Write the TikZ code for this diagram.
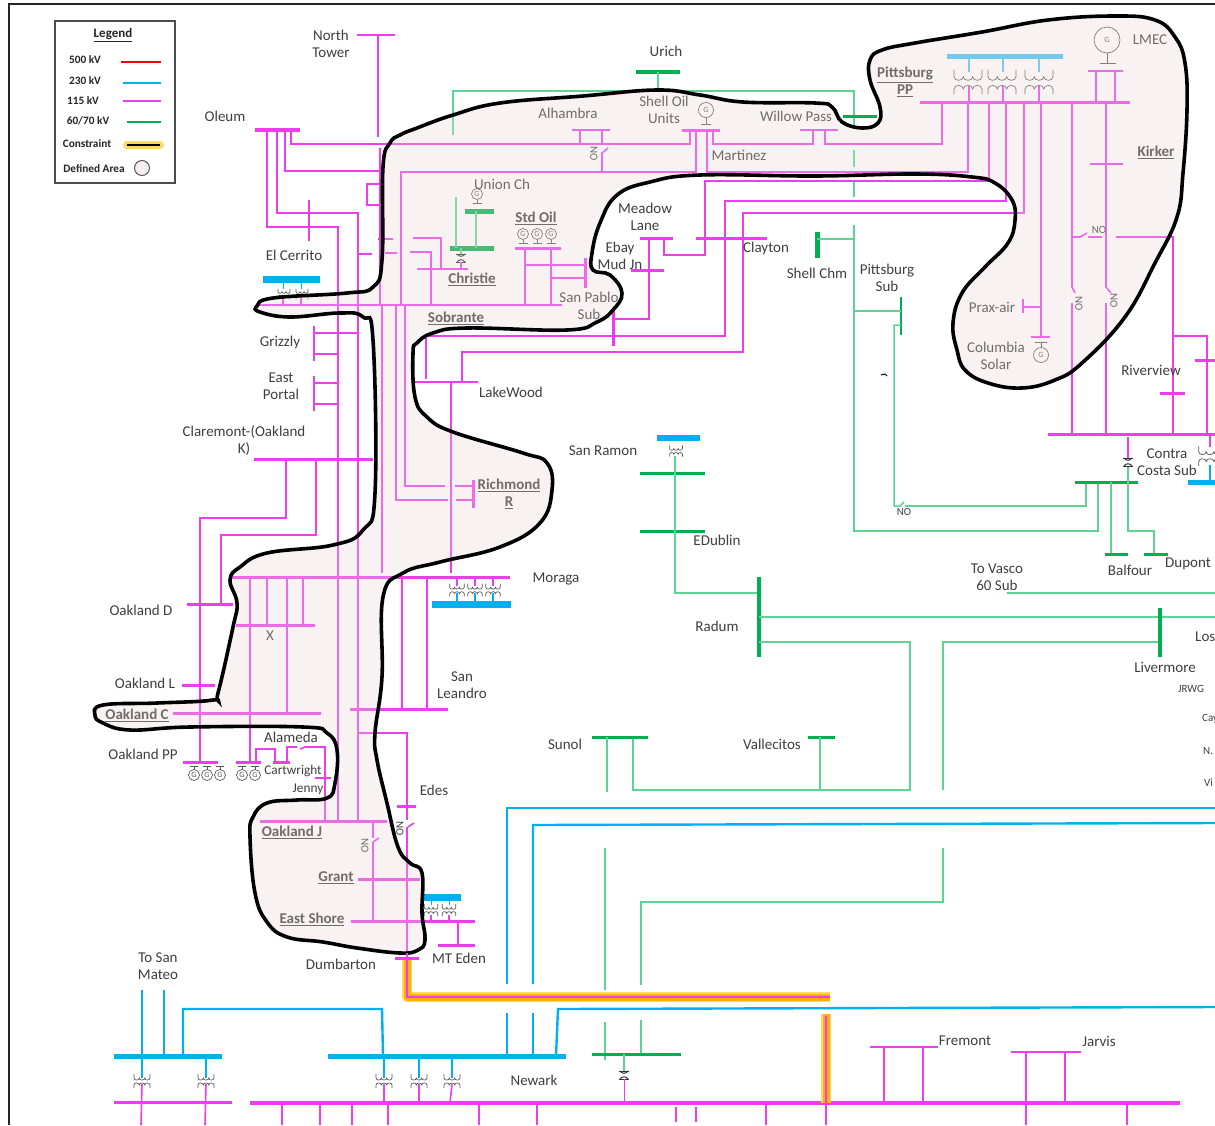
\documentclass[tikz,border=0pt]{standalone}
\usepackage{fontspec}
\setmainfont{Carlito}
\usetikzlibrary{arrows.meta}
\definecolor{kvfive}{HTML}{FF0000}
\definecolor{kvtwo}{HTML}{00B0F0}
\definecolor{kvone}{HTML}{EE3DEE}
\definecolor{kvsix}{HTML}{00B050}
\definecolor{kvsixlt}{HTML}{5CD494}
\definecolor{areatint}{HTML}{E8D7D7}
\definecolor{symgray}{HTML}{595959}
\definecolor{txtgray}{HTML}{3F3F3F}
\definecolor{glowin}{HTML}{FFB000}
\definecolor{glowout}{HTML}{FFD966}
\tikzset{
  ln115/.style={kvone,line width=1.6pt},
  bus115/.style={kvone,line width=3pt},
  ln230/.style={kvtwo,line width=2.4pt},
  bus230/.style={kvtwo,line width=5pt},
  bar230/.style={kvtwo,line width=7pt},
  ln60/.style={kvsixlt,line width=1.5pt},
  bus60/.style={kvsix,line width=3pt},
  glowa/.style={glowout,line width=10.5pt,line join=round},
  glowb/.style={glowin,line width=7pt,line join=round},
  areaedge/.style={draw=black,line width=3.6pt,fill=areatint,fill opacity=0.3},
  lbl/.style={font=\fontsize{15}{17}\selectfont,text=txtgray,align=center,inner sep=0pt},
  boldlbl/.style={font=\fontsize{15}{17}\selectfont,text=txtgray,align=center,inner sep=0pt},
  smalllbl/.style={font=\fontsize{13.3}{14}\selectfont,text=txtgray,align=center,inner sep=0pt},
  tinylbl/.style={font=\fontsize{11}{12}\selectfont,text=txtgray,align=center,inner sep=0pt},
  leglbl/.style={font=\fontsize{11.3}{12}\selectfont\bfseries,text=black!85,inner sep=0pt},
  gensym/.style={draw=symgray,circle,line width=0.7pt,minimum size=11pt,inner sep=0pt,text=symgray,font=\fontsize{8}{8}\selectfont}
}
\newcommand{\bld}[1]{\underline{\textbf{#1}}}
\newcommand{\xfmr}[3]{\begin{scope}[shift={(#1,#2)},scale=#3,symgray,line width=0.7pt]
\draw (-8,-7) -- (-8,-3) .. controls (-8,-0.3) and (-2.7,-0.3) .. (-2.7,-3) .. controls (-2.7,-0.3) and (2.7,-0.3) .. (2.7,-3) .. controls (2.7,-0.3) and (8,-0.3) .. (8,-3) -- (8,-7);
\draw (-8,7) -- (-8,4) .. controls (-8,1.3) and (-2.7,1.3) .. (-2.7,4) .. controls (-2.7,1.3) and (2.7,1.3) .. (2.7,4) .. controls (2.7,1.3) and (8,1.3) .. (8,4) -- (8,7);
\end{scope}}
\newcommand{\tie}[2]{\begin{scope}[shift={(#1,#2)},black!80,line width=1pt]
\draw (-5,-4) -- (5,-4);
\draw (-5,4) -- (5,4);
\draw (-4,-4) .. controls (-2,-1) and (2,-1) .. (4,-4);
\draw (-4,4) .. controls (-2,1) and (2,1) .. (4,4);
\end{scope}}
\newcommand{\gen}[3]{\node[gensym] (#1) at (#2,#3) {G};
\draw[symgray,line width=1pt] (#2-4,#3-9) -- (#2+4,#3-9);
\draw[symgray,line width=0.7pt] (#2,#3-9) -- (#2,#3-5.5);}
\newcommand{\genup}[3]{\node[gensym] (#1) at (#2,#3) {G};
\draw[symgray,line width=1pt] (#2-4.5,#3+9) -- (#2+4.5,#3+9);
\draw[symgray,line width=0.7pt] (#2,#3+9) -- (#2,#3+5.5);}
\begin{document}
\begin{tikzpicture}[x=1pt,y=-1pt]
\useasboundingbox (0,0) rectangle (1215,1125);
\fill[white] (0,0) rectangle (1215,1125);
\draw[black!85,line width=1.6pt] (9,1125) -- (9,4) -- (1215,4);

\draw[ln60] (453,135) -- (453,91) -- (854,91) -- (854,125);
\draw[ln60] (854,150) -- (854,167);
\draw[ln60] (854,180) -- (854,197);
\draw[ln60] (854,225) -- (854,531) -- (1098,531) -- (1098,482);
\draw[bus60,line width=4.5pt] (636,72) -- (680,72);
\draw[ln60] (658,72) -- (658,91);
\draw[bus60] (843,116) -- (877,116);
\draw[kvsix,line width=5pt] (817,232) -- (817,258);
\draw[ln60] (817,239) -- (854,239);
\draw[bus60,line width=2.4pt] (901,297) -- (901,335);
\draw[ln60] (854,311) -- (901,311);
\draw[ln60] (901,325) -- (894,325) -- (894,506) -- (900,506) -- (904,502);
\draw[ln60] (905,506) -- (1086,506) -- (1086,482);
\draw[black,line width=1pt] (881,375) -- (885,374) -- (887,376);
\draw[bus60] (1075,482) -- (1138,482);
\draw[ln60] (1111,482) -- (1111,554);
\draw[ln60] (1128,466) -- (1128,531) -- (1154,531) -- (1154,554);
\draw[bus60] (1105,554) -- (1128,554);
\draw[bus60] (1144,554) -- (1168,554);
\draw[ln115] (1128,437) -- (1128,458);
\tie{1128}{462}

\draw[bus230,line width=6pt] (657,438) -- (700,438);
\xfmr{676}{451}{0.8}
\draw[bus60] (640,473) -- (705,473);
\draw[bus60] (640,531) -- (705,531);
\draw[ln60] (675,456) -- (675,593) -- (759,593);
\draw[kvsix,line width=3.5pt] (759,577) -- (759,657);
\draw[ln60] (759,617) -- (1215,617);
\draw[ln60] (759,642) -- (910,642) -- (910,790) -- (633,790) -- (633,737);
\draw[bus60] (592,737) -- (648,737);
\draw[ln60] (607,737) -- (607,792);
\draw[bus60] (808,737) -- (835,737);
\draw[ln60] (820,737) -- (820,790);
\draw[ln60] (943,790) -- (943,642) -- (1160,642);
\draw[kvsix,line width=3.5pt] (1160,608) -- (1160,657);
\draw[ln60] (1007,593) -- (1215,593);
\draw[ln60] (605,848) -- (605,990);
\draw[ln60] (641,985) -- (641,902) -- (943,902) -- (943,848);
\draw[ln60] (605,1022) -- (605,1060);
\draw[ln60] (641,1020) -- (641,1054);
\draw[bus60] (592,1054) -- (681,1054);
\draw[ln60] (624,1054) -- (624,1071);
\tie{624}{1075}
\draw[ln115,line width=1pt] (624,1079) -- (624,1103);

\draw[ln230] (507,984) -- (507,808) -- (1215,808);
\draw[ln230] (533,984) -- (533,825) -- (1215,823);
\draw[ln230] (507,1013) -- (507,1057);
\draw[ln230] (533,1013) -- (533,1057);
\draw[ln230] (556,1056) -- (558,1009) -- (1215,1007);
\draw[bus230] (328,1056) -- (566,1056);
\draw[ln230] (183,1056) -- (183,1009) -- (382,1009) -- (383,1056);
\draw[bus230] (114,1056) -- (222,1056);
\draw[ln230] (142,990) -- (142,1056);
\draw[ln230] (164,990) -- (164,1056);

\draw[kvtwo,line width=1.2pt] (142,1056) -- (142,1078);
\draw[kvtwo,line width=1.2pt] (206,1056) -- (206,1078);
\draw[kvtwo,line width=1.2pt] (384,1056) -- (384,1078);
\draw[kvtwo,line width=1.2pt] (419,1056) -- (419,1078);
\draw[kvtwo,line width=1.2pt] (452,1056) -- (452,1078);
\draw[ln115] (142,1084) -- (141,1125);
\draw[ln115] (206,1084) -- (205,1125);
\draw[ln115] (384,1084) -- (384,1103);
\draw[ln115] (419,1084) -- (419,1103);
\draw[ln115] (452,1084) -- (450,1103);
\xfmr{142}{1081}{1}
\xfmr{206}{1081}{1}
\xfmr{384}{1081}{1}
\xfmr{419}{1081}{1}
\xfmr{452}{1081}{1}
\draw[bus115] (114,1102) -- (232,1102);
\draw[kvone,line width=4pt] (250,1103) -- (1180,1103);
\draw[ln115] (282,1103) -- (282,1125);
\draw[ln115] (320,1103) -- (320,1125);
\draw[ln115] (352,1103) -- (352,1125);
\draw[ln115] (388,1103) -- (388,1125);
\draw[ln115] (479,1103) -- (479,1125);
\draw[ln115] (537,1103) -- (537,1125);
\draw[ln115] (676,1107) -- (676,1122);
\draw[ln115] (696,1107) -- (696,1122);
\draw[ln115] (766,1103) -- (766,1125);
\draw[ln115] (884,1047) -- (884,1103);
\draw[ln115] (923,1047) -- (923,1103);
\draw[ln115] (870,1047) -- (938,1047);
\draw[ln115] (1011,1052) -- (1081,1052);
\draw[ln115] (1026,1052) -- (1026,1125);
\draw[ln115] (1065,1052) -- (1065,1103);
\draw[ln115] (1127,1103) -- (1127,1125);
\draw[glowa] (826,1014) -- (826,1103);
\draw[glowb] (826,1014) -- (826,1103);
\draw[ln115] (826,1016) -- (826,1125);

\draw[ln115] (357,35) -- (395,35);
\draw[ln115] (378,35) -- (378,137);
\draw[bus115,line width=3.5pt] (255,130) -- (300,130);
\draw[ln115] (267,130) -- (267,227) -- (338,227) -- (338,821);
\draw[ln115] (277,130) -- (277,213) -- (358,213) -- (358,821);
\draw[ln115] (285,130) -- (285,171) -- (380,171);
\draw[ln115] (291,130) -- (291,144) -- (690,144) -- (690,130);
\draw[ln115] (380,148) -- (380,305);
\draw[ln115] (380,184) -- (367,184) -- (367,205) -- (380,205);
\draw[ln115] (309,200) -- (309,241);
\draw[ln115] (358,254) -- (372,254);
\draw[ln115] (378,239) -- (393,239);
\draw[ln115] (385,253) -- (397,253);
\draw[bus115] (682,130) -- (720,130);
\draw[ln115] (696,130) -- (696,172) -- (401,172) -- (401,305);
\draw[ln115] (707,130) -- (707,172) -- (968,172) -- (968,102);
\draw[ln115] (713,130) -- (713,144) -- (813,144) -- (813,130);
\draw[ln115] (800,130) -- (838,130);
\draw[ln115] (825,130) -- (825,144) -- (942,144) -- (942,102);
\draw[ln115] (572,130) -- (610,130);
\draw[ln115] (580,130) -- (580,144);
\draw[ln115] (602,130) -- (602,144);
\draw[ln115] (602,172) -- (602,153) -- (608,148);
\node[tinylbl,rotate=-90] (noalhambra) at (594,154) {NO};
\node[gensym,minimum size=15pt] (genshell) at (706,110) {G};
\draw[symgray,line width=1pt] (701,124) -- (711,124);
\draw[symgray,line width=0.7pt] (706,124) -- (706,117.5);

\draw[bus115] (920,102) -- (1130,102);
\draw[ln115] (989,102) -- (989,181) -- (705,181) -- (705,255) -- (664,255) -- (664,238);
\draw[ln115] (1006,102) -- (1006,201) -- (725,201) -- (725,336) -- (426,336) -- (426,379);
\draw[ln115] (1024,102) -- (1024,213) -- (743,213) -- (743,352) -- (462,352) -- (462,382);
\draw[bus115] (696,238) -- (767,238);
\draw[bus115] (640,238) -- (673,238);
\draw[ln115] (649,238) -- (649,319) -- (613,319);
\draw[bus115] (631,270) -- (664,270);
\draw[bus115] (613,308) -- (613,346);
\draw[ln115] (411,382) -- (478,382);
\draw[ln115] (451,382) -- (451,573);
\draw[ln115] (1041,102) -- (1041,337);
\draw[ln115] (1031,337) -- (1050,337);
\draw[symgray,line width=1pt] (1035,342) -- (1047,342);
\draw[symgray,line width=0.7pt] (1041,342) -- (1041,348);
\node[gensym,minimum size=15pt] (gencolumbia) at (1041,355) {G};
\draw[ln115] (1023,299) -- (1023,313);
\draw[ln115] (1023,307) -- (1041,307);
\draw[ln115] (1072,102) -- (1072,287) -- (1075,293);
\draw[ln115] (1072,303) -- (1072,434);
\draw[ln115] (1106,102) -- (1106,287) -- (1111,293);
\draw[ln115] (1106,303) -- (1106,434);
\node[tinylbl,rotate=-90] (nokirkera) at (1079,304) {NO};
\node[tinylbl,rotate=-90] (nokirkerb) at (1114,301) {NO};
\draw[ln115] (1090,164) -- (1123,164);
\draw[ln115] (1072,237) -- (1080,237) -- (1087,233);
\draw[ln115] (1088,237) -- (1102,237);
\node[tinylbl] (nokirkerc) at (1099,230) {NO};
\draw[ln115] (1116,237) -- (1173,237) -- (1173,434);
\draw[bus115] (1160,393) -- (1185,393);
\draw[ln115] (1173,336) -- (1207,336) -- (1207,434);
\draw[bus115] (1195,360) -- (1215,360);
\draw[bus115] (1048,434) -- (1215,434);
\draw[ln115] (1210,434) -- (1210,447);
\xfmr{1210}{456}{1.4}
\draw[kvtwo,line width=1.2pt] (1210,465) -- (1210,480);
\draw[bus230] (1188,482) -- (1215,482);

\draw[kvtwo!75!white,line width=5pt] (947,56) -- (1063,56);
\draw[kvtwo!70!white,line width=1.2pt] (969,56) -- (969,72);
\draw[kvtwo!70!white,line width=1.2pt] (1003,56) -- (1003,72);
\draw[kvtwo!70!white,line width=1.2pt] (1039,56) -- (1039,72);
\draw[ln115] (969,86) -- (969,102);
\draw[ln115] (1003,86) -- (1003,102);
\draw[ln115] (1039,86) -- (1039,102);
\xfmr{968}{82}{1.75}
\xfmr{1002}{82}{1.75}
\xfmr{1039}{82}{1.75}
\draw[ln115] (1088,71) -- (1123,71);
\draw[ln115] (1096,71) -- (1096,102);
\draw[ln115] (1115,71) -- (1115,102);
\node[gensym,minimum size=26pt] (genlmec) at (1107,40) {G};
\draw[symgray,line width=1pt] (1100,63) -- (1116,63);
\draw[symgray,line width=0.8pt] (1107,63) -- (1107,53);

\draw[kvone,line width=2.2pt] (257,305) -- (562,305);
\draw[bar230] (263,279) -- (320,279);
\draw[kvtwo,line width=1pt] (283,283) -- (283,289);
\draw[kvtwo,line width=1pt] (301,283) -- (301,289);
\xfmr{284}{294}{0.75}
\xfmr{302}{294}{0.75}
\draw[ln115] (283,298) -- (283,305);
\draw[ln115] (301,298) -- (301,305);
\draw[ln115] (382,305) -- (382,573);
\draw[ln115] (396,305) -- (396,500) -- (448,500);
\draw[ln115] (405,305) -- (405,486) -- (445,486);
\draw[ln115] (455,486) -- (473,486);
\draw[ln115] (456,500) -- (473,500);
\draw[bus115] (473,480) -- (473,508);
\draw[ln115] (417,269) -- (468,269);
\draw[ln115] (441,269) -- (441,238) -- (413,238);
\draw[ln115] (431,305) -- (431,252) -- (410,252);
\draw[bus60,line width=5pt] (450,248) -- (494,248);
\draw[ln60] (456,248) -- (456,197);
\draw[bus60,line width=5pt] (465,211) -- (494,211);
\draw[ln60] (476,211) -- (476,248);
\draw[ln60] (461,248) -- (461,255);
\tie{461}{258}
\draw[ln115] (461,262) -- (461,269);
\genup{genunion}{477}{194}
\draw[bus115] (515,248) -- (561,248);
\draw[ln115] (525,248) -- (525,305);
\draw[ln115] (551,248) -- (551,305);
\draw[ln115] (525,265) -- (585,265);
\draw[ln115] (551,278) -- (585,278);
\draw[bus115] (585,258) -- (585,288);
\genup{genstda}{523}{234}
\genup{genstdb}{537}{234}
\genup{genstdc}{551}{234}

\draw[ln115] (314,326) -- (314,361);
\draw[ln115] (314,333) -- (358,333);
\draw[ln115] (314,354) -- (338,354);
\draw[ln115] (314,376) -- (314,411);
\draw[ln115] (314,383) -- (338,383);
\draw[ln115] (314,404) -- (338,404);
\draw[bus115] (254,459) -- (373,459);
\draw[ln115] (286,459) -- (286,518) -- (200,518) -- (200,762);
\draw[ln115] (316,459) -- (316,535) -- (221,535) -- (221,604);
\draw[bus115] (187,604) -- (233,604);
\draw[bus115] (232,577) -- (510,577);
\draw[ln115] (250,577) -- (250,762);
\draw[ln115] (267,577) -- (267,625);
\draw[ln115] (287,577) -- (287,713);
\draw[ln115] (303,577) -- (303,625);
\draw[bus115] (236,625) -- (315,625);
\draw[bus115] (173,713) -- (321,713);
\draw[bus115] (182,685) -- (215,685);
\draw[ln115] (402,577) -- (402,709);
\draw[ln115] (427,577) -- (427,709);
\draw[bus115] (350,709) -- (448,709);
\draw[kvtwo,line width=1.2pt] (457,593) -- (457,604);
\draw[kvtwo,line width=1.2pt] (475,593) -- (475,604);
\draw[kvtwo,line width=1.2pt] (493,593) -- (493,604);
\draw[ln115] (457,577) -- (457,586);
\draw[ln115] (475,577) -- (475,586);
\draw[ln115] (493,577) -- (493,586);
\xfmr{457}{590}{0.9}
\xfmr{475}{590}{0.9}
\xfmr{493}{590}{0.9}
\draw[bar230] (432,604) -- (511,604);
\draw[ln115] (359,733) -- (407,733) -- (407,820);
\draw[bus115] (397,806) -- (416,806);
\draw[ln115] (408,827) -- (414,823);
\draw[ln115] (407,827) -- (407,958);
\node[tinylbl,rotate=-90] (noedes) at (400,829) {NO};
\draw[bus115] (260,821) -- (387,821);
\draw[ln115] (373,821) -- (373,838);
\draw[ln115] (373,842) -- (379,838);
\draw[ln115] (373,842) -- (373,921);
\node[tinylbl,rotate=-90] (nooaklandj) at (365,846) {NO};
\draw[bus115] (358,879) -- (420,879);
\draw[bus115] (351,921) -- (475,921);
\draw[ln115] (458,921) -- (458,945);
\draw[bus115] (438,945) -- (475,945);
\draw[bar230] (421,897) -- (461,897);
\draw[kvtwo,line width=1pt] (431,900) -- (431,905);
\draw[kvtwo,line width=1pt] (449,900) -- (449,905);
\draw[ln115] (431,915) -- (431,921);
\draw[ln115] (449,915) -- (449,921);
\xfmr{431}{910}{0.85}
\xfmr{449}{910}{0.85}
\draw[bus115] (183,762) -- (218,762);
\draw[bus115] (236,762) -- (261,762);
\draw[ln115] (256,762) -- (256,749) -- (275,749) -- (275,762);
\draw[bus115] (273,762) -- (290,762);
\draw[ln115] (287,762) -- (287,747) -- (297,747);
\draw[ln115] (300,749) -- (305,747) -- (325,747) -- (325,821);
\draw[ln115] (315,778) -- (331,778);
\gen{genppa}{194}{775}
\gen{genppb}{207}{775}
\gen{genppc}{220}{775}
\gen{genppd}{242}{775}
\gen{genppe}{255}{775}

\node[lbl] (northtower) at (331,44) {North\\Tower};
\node[lbl] (oleum) at (225,116) {Oleum};
\node[lbl] (elcerrito) at (294,255) {El Cerrito};
\node[lbl] (grizzly) at (280,342) {Grizzly};
\node[lbl] (eastportal) at (281,386) {East\\Portal};
\node[lbl] (claremont) at (244,441) {Claremont-(Oakland\\K)};
\node[lbl] (oaklandd) at (141,610) {Oakland D};
\node[lbl] (oaklandl) at (145,683) {Oakland L};
\node[boldlbl] (oaklandc) at (137,715) {\bld{Oakland C}};
\node[lbl] (oaklandpp) at (143,754) {Oakland PP};
\node[lbl] (xbus) at (270,636) {X};
\node[lbl] (alameda) at (291,737) {Alameda};
\node[smalllbl] (cartwright) at (293,771) {Cartwright};
\node[smalllbl] (jenny) at (308,789) {Jenny};
\node[boldlbl] (oaklandj) at (292,832) {\bld{Oakland J}};
\node[boldlbl] (grant) at (336,878) {\bld{Grant}};
\node[boldlbl] (eastshore) at (312,919) {\bld{East Shore}};
\node[lbl] (dumbarton) at (341,964) {Dumbarton};
\node[lbl] (mteden) at (459,958) {MT Eden};
\node[lbl] (edes) at (434,790) {Edes};
\node[lbl] (sanleandro) at (462,685) {San\\Leandro};
\node[lbl] (moraga) at (556,579) {Moraga};
\node[boldlbl] (richmond) at (509,494) {\bld{Richmond}\\\bld{R}};
\node[lbl] (lakewood) at (511,392) {LakeWood};
\node[boldlbl] (sobrante) at (456,318) {\bld{Sobrante}};
\node[boldlbl] (christie) at (472,279) {\bld{Christie}};
\node[boldlbl] (stdoil) at (536,218) {\bld{Std Oil}};
\node[lbl] (unionch) at (502,184) {Union Ch};
\node[lbl] (alhambra) at (568,113) {Alhambra};
\node[lbl] (shelloil) at (664,110) {Shell Oil\\Units};
\node[lbl] (martinez) at (739,155) {Martinez};
\node[lbl] (willowpass) at (796,116) {Willow Pass};
\node[lbl] (urich) at (666,51) {Urich};
\node[boldlbl] (pittsburgpp) at (905,82) {\bld{Pittsburg}\\\bld{PP}};
\node[lbl] (lmec) at (1150,40) {LMEC};
\node[boldlbl] (kirker) at (1156,152) {\bld{Kirker}};
\node[lbl] (meadowlane) at (645,217) {Meadow\\Lane};
\node[lbl] (ebaymud) at (620,256) {Ebay\\Mud Jn};
\node[lbl] (clayton) at (766,248) {Clayton};
\node[lbl] (shellchm) at (817,273) {Shell Chm};
\node[lbl] (pittsburgsub) at (887,278) {Pittsburg\\Sub};
\node[lbl] (sanpablo) at (589,306) {San Pablo\\Sub};
\node[lbl] (praxair) at (992,307) {Prax-air};
\node[lbl] (columbia) at (996,356) {Columbia\\Solar};
\node[lbl] (riverview) at (1151,370) {Riverview};
\node[lbl] (contracosta) at (1167,462) {Contra\\Costa Sub};
\node[lbl] (sanramon) at (603,451) {San Ramon};
\node[lbl] (edublin) at (717,540) {EDublin};
\node[lbl] (radum) at (717,626) {Radum};
\node[lbl] (balfour) at (1130,570) {Balfour};
\node[lbl] (dupont) at (1188,564) {Dupont};
\node[lbl] (vasco) at (997,577) {To Vasco\\60 Sub};
\node[lbl] (livermore) at (1165,667) {Livermore};
\node[lbl,anchor=west] (los) at (1195,637) {Los};
\node[tinylbl] (jrwg) at (1191,689) {JRWG};
\node[tinylbl,anchor=west] (cay) at (1202,719) {Cay};
\node[tinylbl,anchor=west] (nsub) at (1203,751) {N.};
\node[tinylbl,anchor=west] (vi) at (1204,783) {Vi};
\node[lbl] (sunol) at (565,744) {Sunol};
\node[lbl] (vallecitos) at (772,744) {Vallecitos};
\node[lbl] (sanmateo) at (158,966) {To San\\Mateo};
\node[lbl] (newark) at (534,1080) {Newark};
\node[lbl] (fremont) at (965,1041) {Fremont};
\node[lbl] (jarvis) at (1099,1041) {Jarvis};
\node[tinylbl] (nomain) at (904,512) {NO};

\draw[areaedge] plot[smooth cycle,tension=0.7] coordinates {
(400,135) (417,128) (453,115) (500,103) (583,96) (657,90) (700,95) (743,102) (815,103) (832,107) (842,122)
(862,128) (878,123) (880,107) (870,80) (870,60) (882,50) (915,43) (982,32) (1048,20) (1115,16)
(1155,20) (1175,37) (1185,63) (1187,110) (1183,173) (1177,217) (1155,263) (1125,317) (1082,363)
(1055,380) (1022,388) (988,383) (965,370) (957,350) (953,323) (962,293) (985,267) (1008,243)
(1015,220) (1012,200) (995,183) (972,177) (915,174) (815,176) (700,175) (650,182) (617,195)
(600,223) (592,253) (593,270) (610,275) (622,293) (613,310) (597,322) (567,330) (467,328)
(433,333) (417,343) (413,353) (415,397) (427,417) (453,432) (523,453) (547,463) (552,490)
(540,523) (500,547) (440,562) (403,573) (383,597) (382,677) (375,733) (377,760) (387,803)
(398,847) (410,863) (422,873) (422,913) (425,940) (418,950) (400,953) (357,948) (323,942)
(287,937) (267,922) (255,893) (250,837) (253,817) (267,803) (297,800) (327,798) (335,783)
(337,750) (327,733) (303,727) (190,727) (130,730) (103,723) (95,715) (103,705) (157,703)
(213,700) (218,693) (233,627) (237,603) (230,580) (240,567) (267,553) (333,545) (363,530)
(375,493) (373,340) (363,317) (340,313) (290,317) (260,312) (257,306) (273,298) (347,293)
(373,287) (382,260) (383,167) (390,143)};

\draw[glowa] (407,958) -- (407,997) -- (830,997);
\draw[glowb] (407,958) -- (407,997) -- (830,997);
\draw[ln115] (407,953) -- (407,997) -- (830,997);
\draw[bus115] (395,958) -- (419,958);

\draw[black!70,line width=1.2pt] (55,21) rectangle (175,183);
\node[font=\fontsize{13}{13}\selectfont\bfseries,text=black!85,inner sep=0pt] (legendtitle) at (113,35) {\underline{Legend}};
\node[leglbl] (lega) at (85,60) {500 kV};
\draw[kvfive,line width=1.6pt] (121,62) -- (161,62);
\node[leglbl] (legb) at (85,81) {230 kV};
\draw[kvtwo,line width=1.6pt] (123,83) -- (161,83);
\node[leglbl] (legc) at (83,101) {115 kV};
\draw[kvone,line width=1.6pt] (123,101) -- (161,101);
\node[leglbl] (legd) at (88,121) {60/70 kV};
\draw[kvsix,line width=1.6pt] (127,122) -- (161,122);
\node[leglbl] (lege) at (87,144) {Constraint};
\draw[glowa,line cap=round,line width=8pt] (127,145) -- (160,145);
\draw[black,line width=2pt] (127,145) -- (160,145);
\node[leglbl] (legf) at (94,169) {Defined Area};
\draw[symgray,line width=1pt,fill=areatint!40!white] (142,168) circle (7.5);
\end{tikzpicture}
\end{document}
